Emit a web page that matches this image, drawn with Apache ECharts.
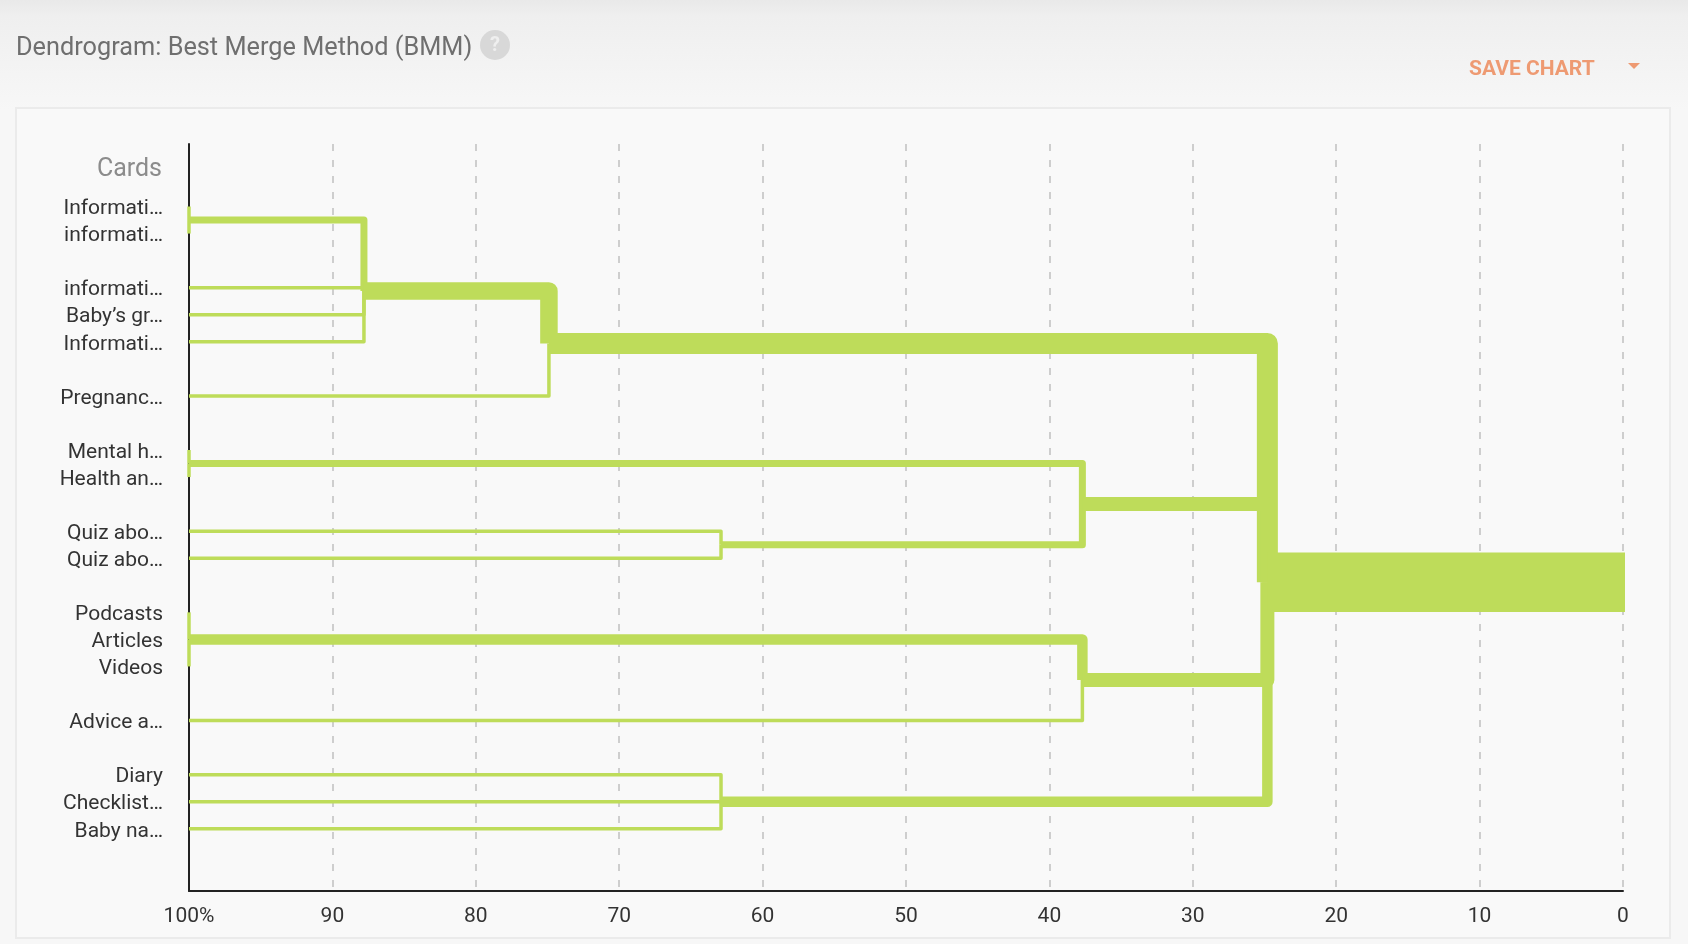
<!DOCTYPE html>
<html>
<head>
<meta charset="utf-8">
<title>Dendrogram: Best Merge Method (BMM)</title>
<script src="https://cdn.jsdelivr.net/npm/echarts@6/dist/echarts.min.js"></script>
<style>
  html, body { margin: 0; padding: 0; background: #f7f7f7; }
  #chart { width: 1688px; height: 944px; }
</style>
</head>
<body>
<div id="chart"></div>
<script>
//卡片名称（按图中从上到下）
var cards = ['Informati…', 'informati…', 'informati…', 'Baby’s gr…', 'Informati…', 'Pregnanc…',
  'Mental h…', 'Health an…', 'Quiz abo…', 'Quiz abo…', 'Podcasts', 'Articles', 'Videos',
  'Advice a…', 'Diary', 'Checklist…', 'Baby na…'];

//合并：子节点编号（<17 为卡片，>=17 为之前的合并），依次编号 17,18,...
var mergeChildren = [
  [0, 1],            // 17
  [17, 2, 3, 4],     // 18
  [18, 5],           // 19
  [6, 7],            // 20
  [8, 9],            // 21
  [20, 21],          // 22
  [10, 11, 12],      // 23
  [23, 13],          // 24
  [14, 15, 16],      // 25
  [19, 22, 24, 25]   // 26 根
];
//合并时的相似度 %
var mergeLevel = [100, 87.8, 74.9, 100, 62.9, 37.7, 100, 37.7, 62.9, 24.8];
var rootEnd = 0;

var xTicks = [100, 90, 80, 70, 60, 50, 40, 30, 20, 10, 0];

var green = '#bedc5a';
var perLeaf = 3.5;

//计算每个卡片所在的行（不同父节点之间空一行）
var nLeaf = cards.length;
var parentOf = [];
mergeChildren.forEach(function (ch, i) {
  ch.forEach(function (c) { parentOf[c] = nLeaf + i; });
});
var nodeY = [], nodeX = [], nodeCount = [];
var row = 0;
for (var i = 0; i < nLeaf; i++) {
  if (i > 0 && parentOf[i] !== parentOf[i - 1]) row++;
  nodeY[i] = row;
  nodeX[i] = 100;
  nodeCount[i] = 1;
  row++;
}
var leafRows = nodeY.slice();
mergeChildren.forEach(function (ch, i) {
  var id = nLeaf + i, sy = 0, n = 0;
  ch.forEach(function (c) { sy += nodeY[c]; n += nodeCount[c]; });
  nodeY[id] = sy / ch.length;
  nodeX[id] = mergeLevel[i];
  nodeCount[id] = n;
});

//连线数据 [x1, y1, x2, y2, 叶子数]
var links = [];
mergeChildren.forEach(function (ch, i) {
  var id = nLeaf + i;
  ch.forEach(function (c) {
    links.push([nodeX[c], nodeY[c], nodeX[id], nodeY[id], nodeCount[c]]);
  });
});
var rootId = nLeaf + mergeChildren.length - 1;
links.push([nodeX[rootId], nodeY[rootId], rootEnd, nodeY[rootId], nodeCount[rootId]]);

function renderLink(params, api) {
  var p1 = api.coord([api.value(0), api.value(1)]);
  var p2 = api.coord([api.value(2), api.value(3)]);
  var n = api.value(4);
  var isRoot = params.dataIndex === links.length - 1;
  var pts = [p1];
  //根节点的线盖住最右边的网格线
  var corner = [p2[0] + (isRoot ? 2 : 0), p1[1]];
  // 去掉重复点，避免圆角接头出毛刺
  if (Math.abs(corner[0] - p1[0]) > 0.5) pts.push(corner);
  if (Math.abs(p2[1] - corner[1]) > 0.5) pts.push(p2);
  if (pts.length < 2) return null;
  return {
    type: 'polyline',
    shape: { points: pts },
    style: {
      fill: null,
      stroke: green,
      lineWidth: n * perLeaf,
      lineJoin: 'round',
      lineCap: 'butt'
    }
  };
}

function renderChart() {
  var container = document.getElementById('chart');
  var myChart = echarts.init(container);
  var font = 'Roboto, "Noto Sans", sans-serif';
  var options = {
    backgroundColor: '#f7f7f7',
    animation: false,
    textStyle: { fontFamily: font },
    graphic: [
      {
        type: 'rect', z: -20, silent: true,
        shape: { x: 0, y: 0, width: 1688, height: 110 },
        style: {
          fill: new echarts.graphic.LinearGradient(0, 0, 0, 1, [
            { offset: 0, color: '#e9e9e9' },
            { offset: 0.15, color: '#efefef' },
            { offset: 1, color: '#f7f7f7' }
          ])
        }
      },
      {
        type: 'rect', z: -10, silent: true,
        shape: { x: 16, y: 108, width: 1654, height: 830 },
        style: { fill: '#f9f9f9', stroke: '#ebebeb', lineWidth: 2 }
      },
      {
        type: 'text', x: 16, y: 49,
        style: { text: 'Dendrogram: Best Merge Method (BMM)', fill: '#6f6f6f', font: '25.3px ' + font, verticalAlign: 'middle' }
      },
      {
        type: 'circle', silent: true,
        shape: { cx: 495, cy: 45, r: 15 },
        style: { fill: '#d8d8d8' }
      },
      {
        type: 'text', x: 495, y: 46,
        style: { text: '?', fill: '#efefef', font: 'bold 20px ' + font, align: 'center', verticalAlign: 'middle' }
      },
      {
        type: 'text', x: 1469, y: 70,
        style: { text: 'SAVE CHART', fill: '#ee9a72', font: 'bold 21px ' + font, verticalAlign: 'middle' }
      },
      {
        type: 'polygon',
        shape: { points: [[1628, 63], [1640, 63], [1634, 69]] },
        style: { fill: '#ee9a72' }
      },
      {
        type: 'text', x: 162, y: 170,
        style: { text: 'Cards', fill: '#8c8c8c', font: '25px ' + font, align: 'right', verticalAlign: 'middle' }
      }
    ],
    grid: {
      left: 189,
      right: 65,
      top: 144,
      bottom: 53
    },
    xAxis: {
      type: 'value',
      inverse: true,
      min: 0,
      max: 100,
      interval: 10,
      axisLine: { show: true, onZero: false, lineStyle: { color: '#222', width: 2 } },
      axisTick: { show: false },
      axisLabel: {
        color: '#333',
        fontSize: 21,
        margin: 15,
        customValues: xTicks,
        formatter: function (v) { return v === 100 ? '100%' : String(v); }
      },
      splitLine: {
        show: true,
        lineStyle: { color: '#c0c0c0', width: 1.5, type: [7, 9] }
      }
    },
    yAxis: {
      type: 'value',
      inverse: true,
      min: -2.31,
      max: 25.3,
      axisLine: { show: true, onZero: false, lineStyle: { color: '#222', width: 2 } },
      axisTick: { show: false },
      splitLine: { show: false },
      axisLabel: {
        margin: 26,
        customValues: leafRows,
        formatter: function (v) {
          var idx = leafRows.indexOf(Math.round(v));
          return idx >= 0 ? '{c|' + cards[idx] + '}' : '';
        },
        rich: {
          c: { color: '#333', fontSize: 21, padding: [5, 0, 0, 0] }
        }
      }
    },
    series: [{
      type: 'custom',
      renderItem: renderLink,
      encode: { x: [0, 2], y: [1, 3] },
      data: links,
      clip: false,
      silent: true
    }]
  };
  myChart.setOption(options, true);
}

renderChart();
</script>
</body>
</html>
